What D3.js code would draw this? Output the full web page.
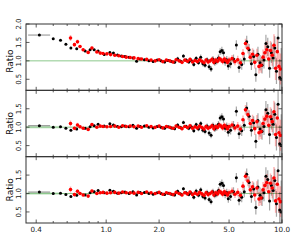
<!DOCTYPE html>
<html><head><meta charset="utf-8">
<script src="https://cdn.jsdelivr.net/npm/d3@7"></script>
<style>body{margin:0;background:#fff}svg{display:block}</style>
</head><body><svg id="c" width="299" height="249"></svg>
<script>
// ---------- data ----------
const xTicks = [0.4, 1.0, 2.0, 5.0, 10.0];
const xTickLabels = ["0.4", "1.0", "2.0", "5.0", "10.0"];
const xMinorTicks = [0.5, 0.6, 0.7, 0.8, 0.9, 3, 4, 6, 7, 8, 9];
const yTicksTop = [0.5, 1.0, 1.5, 2.0];
const yTicksLow = [0.5, 1.0, 1.5];

// low-x black points (panel specific)
const blackLowX = [0.417, 0.50, 0.55, 0.59, 0.63, 0.68, 0.76, 0.81, 0.855, 0.90, 0.975, 1.05, 1.10, 1.16, 1.22, 1.28, 1.35, 1.42, 1.49, 1.56];
const blackLowErr = [0.02, 0.02, 0.02, 0.02, 0.03, 0.03, 0.03, 0.03, 0.03, 0.03, 0.03, 0.03, 0.03, 0.03, 0.03, 0.03, 0.03, 0.03, 0.03, 0.03];
const blackLowTop = [1.70, 1.60, 1.56, 1.45, 1.35, 1.33, 1.27, 1.30, 1.30, 1.27, 1.17, 1.23, 1.21, 1.16, 1.13, 1.12, 1.10, 1.08, 0.99, 1.05];
const blackLowMid = [1.04, 1.00, 1.01, 0.97, 0.92, 0.95, 0.97, 1.01, 1.04, 1.08, 1.03, 1.09, 1.06, 1.02, 1.01, 1.03, 1.01, 1.05, 0.97, 1.02];
const blackLowBot = [1.04, 1.00, 1.01, 0.97, 0.92, 0.95, 0.96, 1.02, 1.05, 1.08, 1.02, 1.09, 1.06, 1.01, 1.02, 1.04, 1.00, 1.05, 0.96, 1.03];
const firstXErr = [0.36, 0.48];

// low-x red points (panel specific)
const redLowX = [0.627, 0.66, 0.687, 0.71, 0.74, 0.79, 0.83, 0.885, 0.925, 0.96, 1.01, 1.06, 1.12, 1.18, 1.24, 1.30, 1.37, 1.44, 1.52, 1.59];
const redLowErr = [0.08, 0.05, 0.06, 0.04, 0.04, 0.04, 0.04, 0.03, 0.03, 0.03, 0.03, 0.03, 0.03, 0.03, 0.03, 0.03, 0.03, 0.03, 0.03, 0.03];
const redLowTop = [1.62, 1.44, 1.52, 1.39, 1.30, 1.23, 1.35, 1.24, 1.21, 1.20, 1.19, 1.17, 1.15, 1.14, 1.12, 1.10, 1.09, 1.08, 1.06, 1.05];
const redLowMid = [1.10, 0.97, 1.06, 1.01, 0.97, 0.94, 1.07, 1.00, 1.03, 1.02, 1.01, 1.02, 1.03, 1.00, 1.04, 1.02, 1.03, 1.01, 1.03, 1.00];
const redLowBot = [1.11, 0.97, 1.06, 1.00, 0.96, 0.93, 1.07, 1.00, 1.02, 1.03, 1.01, 1.02, 1.03, 1.01, 1.04, 1.02, 1.02, 1.01, 1.03, 1.00];

// high-x black points (shared by all panels)
const blackHighX = [1.65, 1.75, 1.85, 1.95, 2.05, 2.15, 2.25, 2.35, 2.45, 2.55, 2.65, 2.75, 2.85, 2.95, 3.05, 3.15, 3.25, 3.35, 3.45, 3.55, 3.65, 3.75, 3.85, 3.95, 4.05, 4.15, 4.25, 4.35, 4.45, 4.55, 4.65, 4.75, 4.85, 4.95, 5.1, 5.3, 5.5, 5.7, 5.9, 6.1, 6.3, 6.5, 6.7, 6.9, 7.1, 7.3, 7.5, 7.7, 7.9, 8.1, 8.3, 8.5, 8.7, 8.9, 9.1, 9.3, 9.5, 9.7, 9.9];
const blackHighY = [1.03, 1.00, 0.98, 1.02, 1.00, 0.97, 1.01, 0.98, 0.96, 1.06, 0.99, 1.13, 1.02, 0.97, 1.01, 0.90, 1.07, 0.95, 1.10, 0.92, 0.88, 1.03, 0.84, 0.78, 1.05, 0.95, 0.99, 1.08, 1.25, 1.28, 1.22, 0.97, 1.03, 0.86, 0.92, 1.05, 1.43, 0.82, 0.90, 1.05, 1.52, 1.30, 0.92, 1.12, 0.62, 1.18, 0.95, 0.88, 1.02, 1.47, 1.38, 0.80, 1.22, 1.08, 1.35, 0.72, 1.62, 0.55, 0.50];
const blackHighErr = [0.03, 0.03, 0.03, 0.03, 0.04, 0.04, 0.04, 0.04, 0.04, 0.05, 0.05, 0.05, 0.05, 0.05, 0.06, 0.06, 0.06, 0.06, 0.07, 0.07, 0.07, 0.07, 0.08, 0.08, 0.08, 0.08, 0.09, 0.09, 0.09, 0.10, 0.10, 0.10, 0.10, 0.11, 0.12, 0.12, 0.13, 0.14, 0.14, 0.15, 0.16, 0.16, 0.17, 0.18, 0.19, 0.20, 0.21, 0.22, 0.23, 0.24, 0.25, 0.26, 0.28, 0.30, 0.32, 0.35, 0.40, 0.50, 0.85];

// high-x red points (shared by all panels)
const redHighX = [1.7, 1.8, 1.9, 2.0, 2.1, 2.2, 2.3, 2.4, 2.5, 2.6, 2.7, 2.8, 2.9, 3.0, 3.1, 3.2, 3.3, 3.4, 3.5, 3.6, 3.7, 3.8, 3.9, 4.0, 4.1, 4.2, 4.3, 4.4, 4.5, 4.6, 4.7, 4.8, 4.9, 5.0, 5.2, 5.4, 5.6, 5.8, 6.0, 6.2, 6.4, 6.6, 6.8, 7.0, 7.2, 7.4, 7.6, 7.8, 8.0, 8.2, 8.4, 8.6, 8.8, 9.0, 9.2, 9.4, 9.6, 9.8];
const redHighY = [1.04, 1.02, 1.00, 1.03, 0.98, 1.02, 1.00, 0.97, 1.03, 1.00, 0.96, 1.02, 0.99, 1.04, 0.97, 1.01, 0.98, 1.03, 0.99, 0.95, 1.02, 0.97, 1.00, 1.04, 0.96, 1.02, 0.99, 1.06, 1.03, 0.98, 1.05, 1.01, 0.96, 1.02, 1.06, 0.98, 1.03, 0.95, 1.20, 1.47, 1.34, 1.10, 1.18, 0.96, 1.15, 0.85, 0.88, 1.10, 1.22, 1.30, 1.05, 1.28, 1.15, 1.42, 0.80, 1.25, 0.85, 0.78];
const redHighErr = [0.03, 0.03, 0.03, 0.03, 0.03, 0.03, 0.04, 0.04, 0.04, 0.04, 0.04, 0.04, 0.05, 0.05, 0.05, 0.05, 0.05, 0.05, 0.06, 0.06, 0.06, 0.06, 0.06, 0.07, 0.07, 0.07, 0.07, 0.08, 0.08, 0.08, 0.08, 0.09, 0.09, 0.09, 0.10, 0.10, 0.11, 0.12, 0.12, 0.13, 0.14, 0.15, 0.16, 0.17, 0.18, 0.19, 0.20, 0.21, 0.22, 0.23, 0.24, 0.26, 0.28, 0.30, 0.32, 0.35, 0.38, 0.42];

const panels = [
  {black: blackLowTop, red: redLowTop, yTicks: yTicksTop, band: false},
  {black: blackLowMid, red: redLowMid, yTicks: yTicksLow, band: true},
  {black: blackLowBot, red: redLowBot, yTicks: yTicksLow, band: true}
];

// ---------- layout ----------
const L = 26, R = 282, T = 24, B = 223;
const ph = (B - T) / 3;
const svg = d3.select("#c");
const x = d3.scaleLog().domain([0.35, 10]).range([L, R]);
const font = "DejaVu Sans";
const axisColor = "#333";

panels.forEach((p, i) => {
  const top = T + i * ph, bot = top + ph;
  const y = d3.scaleLinear().domain([0.2, 2.0]).range([bot, top]);
  const g = svg.append("g");
  const cid = "clip" + i;
  svg.append("clipPath").attr("id", cid).append("rect")
    .attr("x", L).attr("y", top).attr("width", R - L).attr("height", ph);
  const pg = g.append("g").attr("clip-path", `url(#${cid})`);

  if (p.band) {
    pg.append("rect").attr("x", x(0.35)).attr("width", x(0.55) - x(0.35))
      .attr("y", y(1.035)).attr("height", y(0.965) - y(1.035))
      .attr("fill", "rgba(110,190,110,0.3)");
  }
  pg.append("line").attr("x1", L).attr("x2", R).attr("y1", y(1)).attr("y2", y(1))
    .attr("stroke", "#8cc88c").attr("stroke-width", 1);

  const blacks = blackLowX.map((v, k) => ({x: v, y: p.black[k], e: blackLowErr[k]}))
    .concat(blackHighX.map((v, k) => ({x: v, y: blackHighY[k], e: blackHighErr[k]})));
  const reds = redLowX.map((v, k) => ({x: v, y: p.red[k], e: redLowErr[k]}))
    .concat(redHighX.map((v, k) => ({x: v, y: redHighY[k], e: redHighErr[k]})));

  // black x error bar on first point
  pg.append("line").attr("x1", x(firstXErr[0])).attr("x2", x(firstXErr[1]))
    .attr("y1", y(p.black[0])).attr("y2", y(p.black[0]))
    .attr("stroke", "rgba(0,0,0,0.45)").attr("stroke-width", 1);

  pg.selectAll(".be").data(blacks).enter().append("line")
    .attr("x1", d => x(d.x)).attr("x2", d => x(d.x))
    .attr("y1", d => y(d.y - d.e)).attr("y2", d => y(d.y + d.e))
    .attr("stroke", "rgba(0,0,0,0.35)").attr("stroke-width", 1.2);
  pg.selectAll(".re").data(reds).enter().append("line")
    .attr("x1", d => x(d.x)).attr("x2", d => x(d.x))
    .attr("y1", d => y(d.y - d.e)).attr("y2", d => y(d.y + d.e))
    .attr("stroke", "rgba(255,40,40,0.35)").attr("stroke-width", 1.5);
  pg.selectAll(".bp").data(blacks).enter().append("circle")
    .attr("cx", d => x(d.x)).attr("cy", d => y(d.y)).attr("r", 1.5).attr("fill", "#000");
  pg.selectAll(".rp").data(reds).enter().append("circle")
    .attr("cx", d => x(d.x)).attr("cy", d => y(d.y)).attr("r", 1.8).attr("fill", "#f00");

  // frame
  g.append("rect").attr("x", L).attr("y", top).attr("width", R - L).attr("height", ph)
    .attr("fill", "none").attr("stroke", axisColor).attr("stroke-width", 1);

  // ticks (inward, all sides)
  const tk = g.append("g").attr("stroke", axisColor).attr("stroke-width", 0.8);
  xTicks.forEach(t => {
    tk.append("line").attr("x1", x(t)).attr("x2", x(t)).attr("y1", bot).attr("y2", bot - 3.5);
    tk.append("line").attr("x1", x(t)).attr("x2", x(t)).attr("y1", top).attr("y2", top + 3.5);
  });
  xMinorTicks.forEach(t => {
    tk.append("line").attr("x1", x(t)).attr("x2", x(t)).attr("y1", bot).attr("y2", bot - 2);
    tk.append("line").attr("x1", x(t)).attr("x2", x(t)).attr("y1", top).attr("y2", top + 2);
  });
  p.yTicks.forEach(t => {
    tk.append("line").attr("x1", L).attr("x2", L + 3.5).attr("y1", y(t)).attr("y2", y(t));
    tk.append("line").attr("x1", R).attr("x2", R - 3.5).attr("y1", y(t)).attr("y2", y(t));
  });

  // y tick labels (rotated)
  p.yTicks.forEach(t => {
    g.append("text").attr("transform", `translate(21,${y(t)}) rotate(-90)`)
      .attr("text-anchor", "middle").attr("font-family", font).attr("font-size", 7)
      .attr("fill", "#222").text(d3.format(".1f")(t));
  });
  g.append("text").attr("transform", `translate(12.5,${(top + bot) / 2 + (i === 0 ? 4 : 0)}) rotate(-90)`)
    .attr("text-anchor", "middle").attr("font-family", font).attr("font-size", 9)
    .attr("fill", "#111").text("Ratio");
});

// x tick labels
xTicks.forEach((t, k) => {
  svg.append("text").attr("x", x(t)).attr("y", 231.5).attr("text-anchor", "middle")
    .attr("font-family", font).attr("font-size", 7.2).attr("fill", "#222").text(xTickLabels[k]);
});
</script></body></html>
